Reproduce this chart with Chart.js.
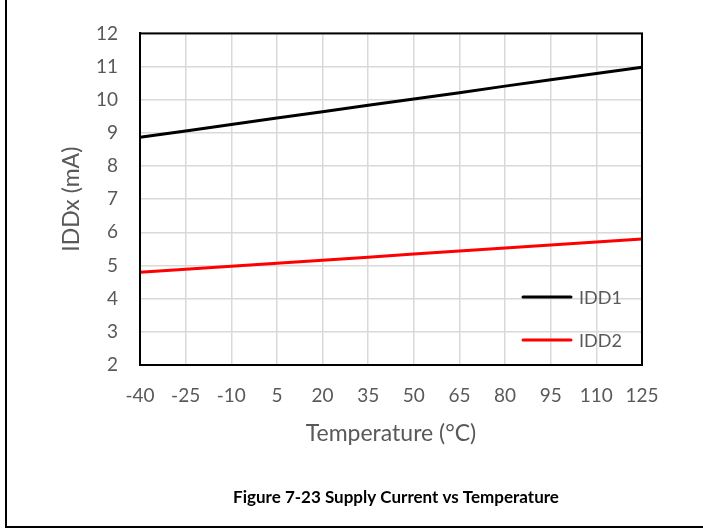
<!DOCTYPE html>
<html>
<head>
<meta charset="utf-8">
<script src="https://cdn.jsdelivr.net/npm/chart.js@4/dist/chart.umd.min.js"></script>
<style>
  html, body { margin: 0; padding: 0; background: #fff; }
  #wrap { position: relative; width: 703px; height: 529px; }
</style>
</head>
<body>
<div id="wrap"><canvas id="chart" width="703" height="529"></canvas></div>
<script>
// ── DATA ─────────────────────────────────────────
const temps = ["-40", "-25", "-10", "5", "20", "35", "50", "65", "80", "95", "110", "125"];
const idd1  = [8.87, 9.06, 9.25, 9.45, 9.64, 9.83, 10.02, 10.21, 10.41, 10.60, 10.79, 10.98];
const idd2  = [4.80, 4.89, 4.98, 5.07, 5.16, 5.25, 5.35, 5.44, 5.53, 5.62, 5.71, 5.80];
const yTicks = [2, 3, 4, 5, 6, 7, 8, 9, 10, 11, 12];

const FONT  = "Lato, 'Noto Sans', sans-serif";
const GREY  = "#595959";
const GRID  = "#d9d9d9";

// ── PLUGIN: frame, legend in plot, caption, page border ─────
const decor = {
  id: "decor",
  afterDatasetsDraw(chart) {
    const { ctx, chartArea: a } = chart;
    ctx.save();
    // plot frame (top + right sides)
    ctx.strokeStyle = "#000";
    ctx.lineWidth = 2;
    ctx.strokeRect(a.left, a.top, a.right - a.left, a.bottom - a.top);

    // legend inside plot, lower right
    const rows = [297, 340];
    chart.data.datasets.forEach((ds, i) => {
      const y = rows[i];
      ctx.strokeStyle = ds.borderColor;
      ctx.lineWidth = 3;
      ctx.lineCap = "round";
      ctx.beginPath();
      ctx.moveTo(523, y);
      ctx.lineTo(571, y);
      ctx.stroke();
      ctx.fillStyle = GREY;
      ctx.font = "18px " + FONT;
      ctx.textBaseline = "middle";
      ctx.textAlign = "left";
      ctx.fillText(ds.label, 579, y + 1);
    });

    // caption
    ctx.fillStyle = "#000";
    ctx.font = "bold 17px " + FONT;
    ctx.textAlign = "center";
    ctx.textBaseline = "middle";
    ctx.fillText("Figure 7-23 Supply Current vs Temperature", 396, 498);

    // page border (left + bottom)
    ctx.strokeStyle = "#000";
    ctx.lineWidth = 2;
    ctx.lineCap = "butt";
    ctx.beginPath();
    ctx.moveTo(6, 0);
    ctx.lineTo(6, 527);
    ctx.lineTo(703, 527);
    ctx.stroke();
    ctx.restore();
  },
};

// ── CHART ────────────────────────────────────────
new Chart(document.getElementById("chart"), {
  type: "line",
  data: {
    labels: temps,
    datasets: [
      { label: "IDD1", data: idd1, borderColor: "#000000", borderWidth: 3, pointRadius: 0, tension: 0 },
      { label: "IDD2", data: idd2, borderColor: "#ff0000", borderWidth: 3, pointRadius: 0, tension: 0 },
    ],
  },
  options: {
    responsive: false,
    animation: false,
    layout: { padding: { top: 33, right: 61, left: 0, bottom: 0 } },
    plugins: {
      legend:  { display: false },
      tooltip: { enabled: false },
    },
    scales: {
      x: {
        type: "category",
        offset: false,
        grid:   { color: GRID, lineWidth: 1.5, drawTicks: false },
        border: { color: "#000", width: 2 },
        ticks:  { color: GREY, font: { family: FONT, size: 19 }, padding: 19, maxRotation: 0, autoSkip: false },
        title:  { display: true, text: "Temperature (°C)", color: GREY,
                  font: { family: FONT, size: 23 }, padding: { top: 0, bottom: 82 } },
        afterFit(s) { s.height = 529 - 365; },
      },
      y: {
        min: 2,
        max: 12,
        afterBuildTicks(s) { s.ticks = yTicks.map(v => ({ value: v })); },
        grid:   { color: GRID, lineWidth: 1.5, drawTicks: false },
        border: { color: "#000", width: 2 },
        ticks:  { color: GREY, font: { family: FONT, size: 19 }, padding: 22 },
        title:  { display: true, text: "IDDx (mA)", color: GREY,
                  font: { family: FONT, size: 23 }, padding: { top: 58, bottom: 0 } },
        afterFit(s) { s.width = 140; },
      },
    },
  },
  plugins: [decor],
});
</script>
</body>
</html>
